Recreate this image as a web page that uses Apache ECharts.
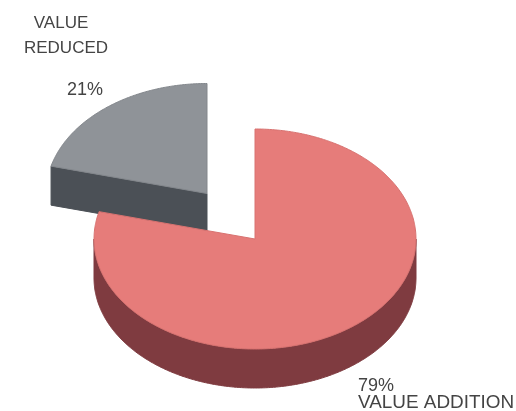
<!DOCTYPE html>
<html>
<head>
<meta charset="utf-8">
<style>html,body{margin:0;padding:0;background:#fff}#c{width:516px;height:411px}</style>
<script src="https://cdn.jsdelivr.net/npm/echarts@6/dist/echarts.min.js"></script>
</head>
<body>
<div id="c"></div>
<script>
// Share of value by outcome, in percent
const categories = ['VALUE REDUCED', 'VALUE ADDITION'];
const shares = [21, 79];

const topColors = ['#8f9398', '#e67c7a'];
const sideColors = ['#4b5056', '#7f3b40'];
const edgeColors = ['#83878c', '#d87270'];
const textColor = '#444444';

// Disc geometry: each slice has its own centre because the small one is pulled out
const centres = [[207, 193.5], [255, 239]];
const radiusX = 161;
const radiusY = 110;
const depth = 39;

// Slice angles run clockwise from 12 o'clock
function ellipsePoint(c, t, dy) {
  return [c[0] + radiusX * Math.sin(t), c[1] - radiusY * Math.cos(t) + (dy || 0)];
}
function arcPoints(c, from, to, dy) {
  const pts = [];
  const n = Math.max(2, Math.ceil(Math.abs(to - from) / 0.01));
  for (let i = 0; i <= n; i++) pts.push(ellipsePoint(c, from + (to - from) * i / n, dy));
  return pts;
}
function sliceRange(index) {
  const total = shares.reduce((a, b) => a + b, 0);
  const span = shares[index] / total * Math.PI * 2;
  // The small slice ends at 12 o'clock, the large one starts there
  return index === 0 ? [-span, 0] : [0, span];
}

function renderSlice(params, api) {
  const i = api.value(0);
  const c = centres[i];
  const [a, b] = sliceRange(i);
  const children = [];
  const polygon = (points, fill, stroke) => children.push({
    type: 'polygon',
    shape: { points },
    style: { fill, stroke: stroke || fill, lineWidth: 1 }
  });

  if (i === 0) {
    // Cut face seen along the front of the pulled-out slice
    const outer = ellipsePoint(c, a);
    polygon([outer, c, [c[0], c[1] + depth], [outer[0], outer[1] + depth]], sideColors[i]);
  } else {
    // Rim along the near half of the disc
    const from = Math.max(a, Math.PI / 2);
    const to = Math.min(b, Math.PI * 1.5);
    polygon(arcPoints(c, from, to).concat(arcPoints(c, to, from, depth)), sideColors[i]);
  }
  polygon([c].concat(arcPoints(c, a, b)), topColors[i], edgeColors[i]);
  return { type: 'group', children };
}

const text = (x, y, str, size, align, scaleX) => ({
  type: 'text', x, y, scaleX: scaleX || 1,
  style: {
    text: str,
    font: size + 'px "Liberation Sans", Arial, sans-serif',
    fill: textColor,
    align: align || 'left',
    verticalAlign: 'middle'
  }
});

const chart = echarts.init(document.getElementById('c'), null, { renderer: 'canvas' });
chart.setOption({
  animation: false,
  backgroundColor: '#ffffff',
  graphic: {
    elements: [
      text(61, 23, categories[0].split(' ')[0], 17, 'center'),
      text(66, 48, categories[0].split(' ')[1], 17, 'center'),
      text(67, 90, shares[0] + '%', 18, 'left'),
      text(358, 386, shares[1] + '%', 18, 'left'),
      text(358, 403, categories[1], 18, 'left', 1.05)
    ]
  },
  series: [{
    type: 'custom',
    coordinateSystem: 'none',
    silent: true,
    data: shares.map((v, i) => [i, v]),
    renderItem: renderSlice
  }]
});
</script>
</body>
</html>
